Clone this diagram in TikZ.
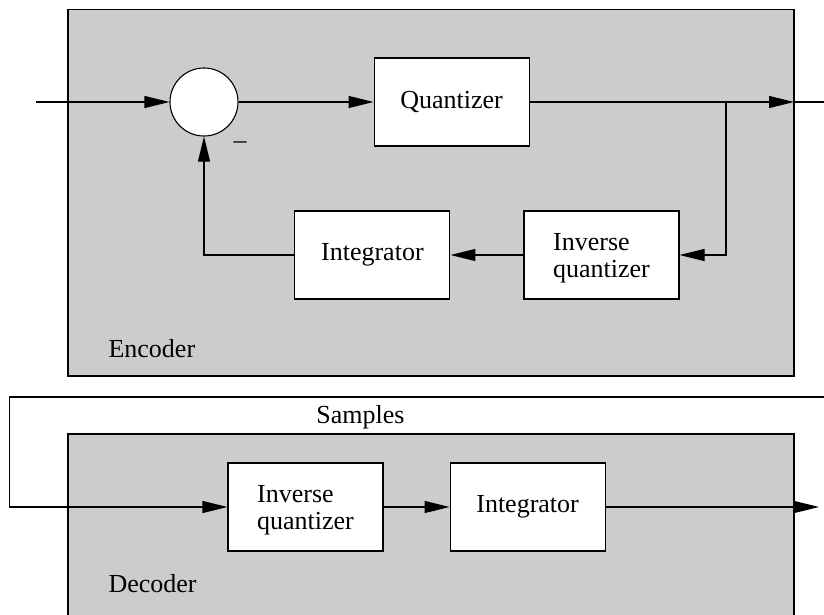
\documentclass[tikz,border=0pt]{standalone}
\usepackage{fontspec}
\setmainfont{Liberation Serif}
\usepackage{tikz}
\usepackage{xcolor}
\usetikzlibrary{arrows.meta,positioning}
\definecolor{panelgray}{gray}{0.8}

\begin{document}
\begin{tikzpicture}[x=1pt,y=-1pt,line width=1.1pt,
blk/.style={draw,fill=white,minimum width=155pt,minimum height=88pt,align=left,font=\fontsize{26}{27}\selectfont},
sum/.style={draw,circle,fill=white,minimum size=68pt,inner sep=0pt},
panel/.style={draw,fill=panelgray},
flow/.style={-{Triangle[length=25pt,width=12pt]}},
lab/.style={font=\fontsize{26}{27}\selectfont,inner sep=0pt}]
\useasboundingbox (0,0) rectangle (824,615);
\draw[panel] (68,9.5) rectangle (794,376);
\draw[panel] (68,434) rectangle (794,640);
% encoder
\node[sum] (sum) at (204,102) {};
\node[blk,right=135pt of sum] (q) {Quantizer};
\node[blk,text depth=0pt] (iqe) at (601.5,255) {Inverse\\quantizer};
\node[blk,left=73pt of iqe] (inte) {Integrator};
\node[lab,anchor=base] (minus) at (240,148) {--};
\node[lab,anchor=base west] (enclab) at (108,357) {Encoder};
\coordinate (in) at (36,102);
\coordinate (br) at (726,102);
\coordinate (eout) at (794,102);
\coordinate (eend) at (824,102);
\draw[flow] (in)--(sum.west);
\draw[flow] (sum)--(q);
\draw[flow] (q.east)--(eout); \draw (eout)--(eend);
\draw[flow] (br)|-(iqe.east);
\draw[flow] (iqe)--(inte);
\draw[flow] (inte.west)-|(sum.south);
% decoder
\node[blk,text depth=0pt] (iqd) at (305.5,507) {Inverse\\quantizer};
\node[blk,right=66pt of iqd] (intd) {Integrator};
\node[lab,anchor=base] (smp) at (360.5,423) {Samples};
\node[lab,anchor=base west] (declab) at (108,592) {Decoder};
\coordinate (ch) at (824,397);
\coordinate (chl) at (9.5,397);
\coordinate (dout) at (819,507);
\draw[flow] (ch)--(chl)|-(iqd.west);
\draw[flow] (iqd)--(intd);
\draw[flow] (intd)--(dout);
\end{tikzpicture}
\end{document}
